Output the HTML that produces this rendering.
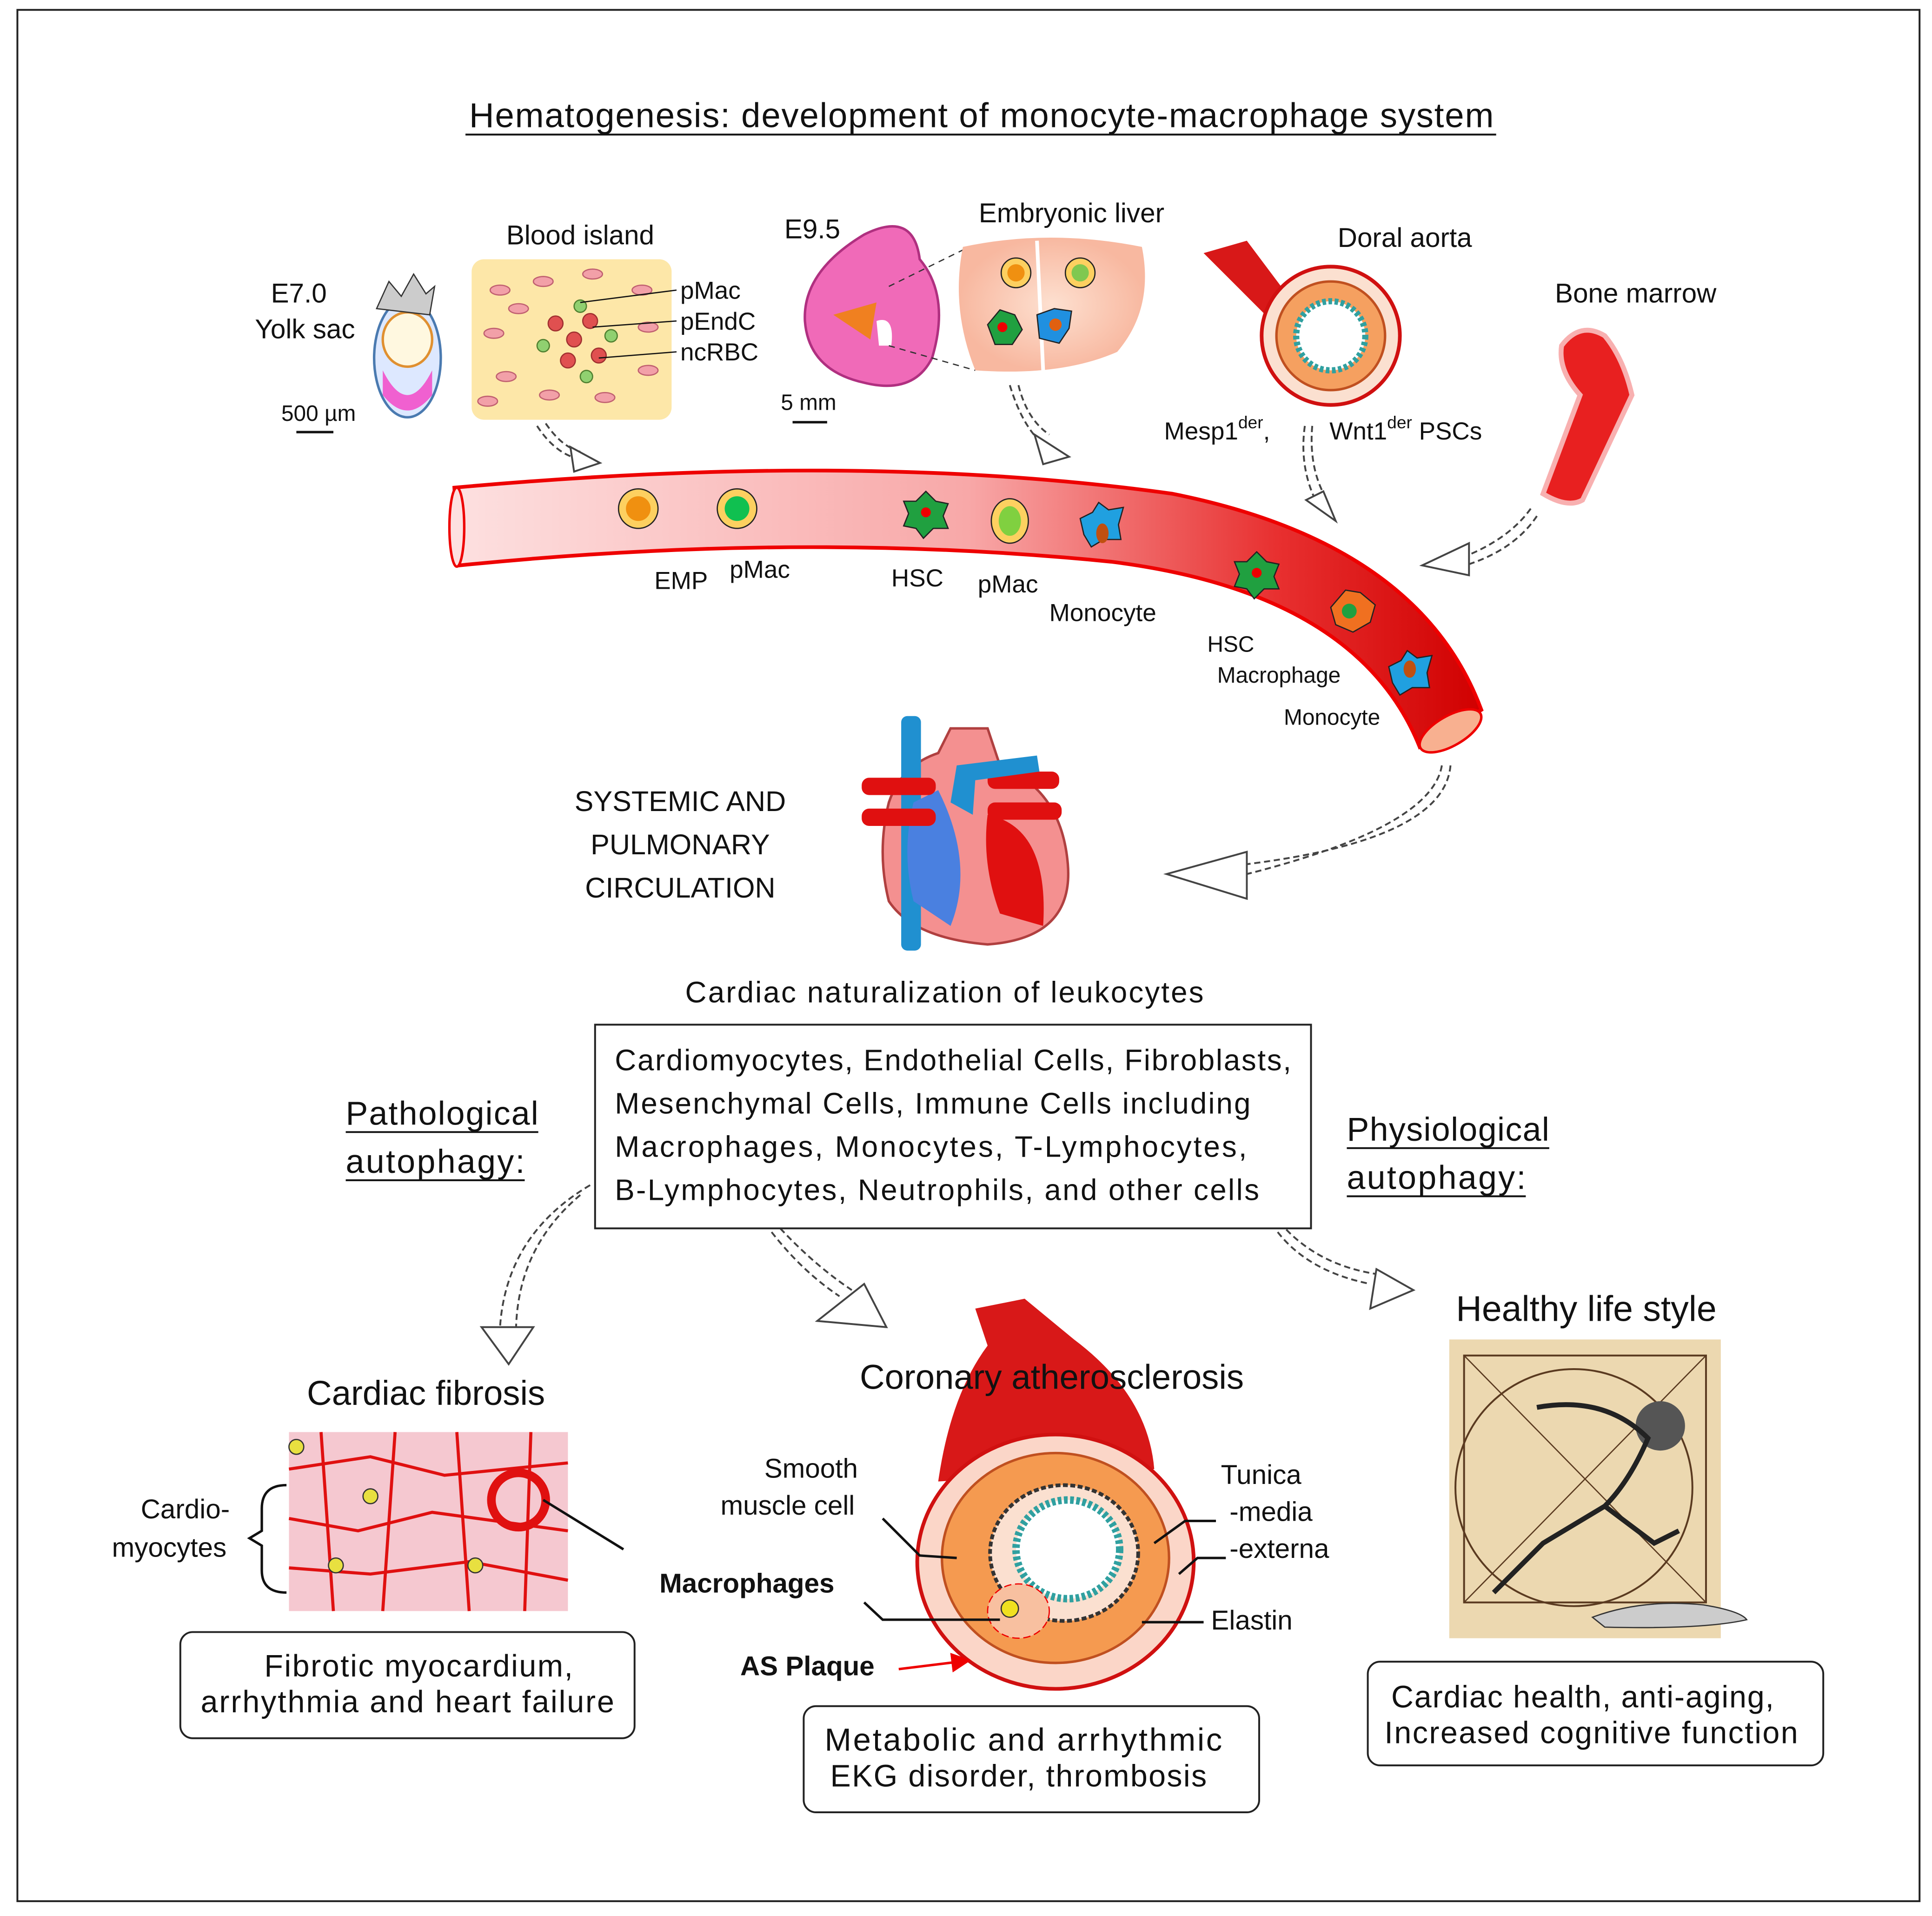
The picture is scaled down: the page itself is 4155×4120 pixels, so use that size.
<!DOCTYPE html>
<html><head><meta charset="utf-8">
<style>
html,body{margin:0;padding:0;background:#fff;}
svg{display:block;}
text{font-family:"Liberation Sans",sans-serif;fill:#111;}
</style></head>
<body>
<svg width="4155" height="4120" viewBox="0 0 1565 1552" xmlns="http://www.w3.org/2000/svg">
<defs>
<linearGradient id="ves" x1="0" y1="0" x2="1" y2="0">
<stop offset="0" stop-color="#fde0e0"/><stop offset="0.5" stop-color="#f8a8a8"/><stop offset="0.8" stop-color="#e83030"/><stop offset="1" stop-color="#d00000"/>
</linearGradient>
<radialGradient id="liv"><stop offset="0" stop-color="#fde0d0"/><stop offset="1" stop-color="#f8b8a0"/></radialGradient>
<marker id="ah" viewBox="0 0 10 10" refX="9" refY="5" markerWidth="8" markerHeight="8" orient="auto"><path d="M0,0 L10,5 L0,10 z" fill="#e00"/></marker>
</defs>
<rect x="0" y="0" width="1565" height="1552" fill="#fff"/>
<rect x="14" y="8" width="1541" height="1532" fill="none" stroke="#222" stroke-width="1.5"/>

<text x="795" y="103" font-size="28" text-anchor="middle" textLength="830">Hematogenesis:  development of monocyte-macrophage system</text>
<line x1="377" y1="109" x2="1212" y2="109" stroke="#111" stroke-width="1.5"/>

<!-- Yolk sac -->
<text x="242" y="245" font-size="22" text-anchor="middle">E7.0</text>
<text x="247" y="274" font-size="22" text-anchor="middle">Yolk sac</text>
<ellipse cx="330" cy="290" rx="27" ry="48" fill="#dde8ff" stroke="#4a7ab0" stroke-width="2"/>
<path d="M310,300 Q330,340 350,300 L350,320 Q330,345 310,320z" fill="#f060d0"/>
<ellipse cx="330" cy="275" rx="20" ry="22" fill="#fff8e0" stroke="#e09030" stroke-width="2"/>
<path d="M305,250 L315,228 L325,240 L335,222 L345,238 L352,232 L348,255z" fill="#ccc" stroke="#333"/>
<text x="258" y="341" font-size="18" text-anchor="middle">500 µm</text>
<line x1="240" y1="350" x2="270" y2="350" stroke="#111" stroke-width="2"/>

<!-- Blood island -->
<text x="470" y="198" font-size="22" text-anchor="middle">Blood island</text>
<rect x="382" y="210" width="162" height="130" rx="10" fill="#fde7a8"/>
<g fill="#f2a0a8" stroke="#c06070" stroke-width="1">
<ellipse cx="405" cy="235" rx="8" ry="4"/><ellipse cx="440" cy="228" rx="8" ry="4"/><ellipse cx="520" cy="235" rx="8" ry="4"/><ellipse cx="400" cy="270" rx="8" ry="4"/><ellipse cx="410" cy="305" rx="8" ry="4"/><ellipse cx="445" cy="320" rx="8" ry="4"/><ellipse cx="490" cy="322" rx="8" ry="4"/><ellipse cx="525" cy="300" rx="8" ry="4"/><ellipse cx="525" cy="265" rx="8" ry="4"/><ellipse cx="420" cy="250" rx="8" ry="4"/><ellipse cx="480" cy="222" rx="8" ry="4"/><ellipse cx="395" cy="325" rx="8" ry="4"/>
</g>
<g fill="#e05050" stroke="#a03030"><circle cx="450" cy="262" r="6"/><circle cx="465" cy="275" r="6"/><circle cx="478" cy="260" r="6"/><circle cx="460" cy="292" r="6"/><circle cx="485" cy="288" r="6"/></g>
<g fill="#90d070" stroke="#508030"><circle cx="440" cy="280" r="5"/><circle cx="495" cy="272" r="5"/><circle cx="470" cy="248" r="5"/><circle cx="475" cy="305" r="5"/></g>
<g stroke="#111" stroke-width="1"><line x1="470" y1="245" x2="548" y2="235"/><line x1="480" y1="265" x2="548" y2="260"/><line x1="485" y1="290" x2="548" y2="285"/></g>
<text x="551" y="242" font-size="20">pMac</text>
<text x="551" y="267" font-size="20">pEndC</text>
<text x="551" y="292" font-size="20">ncRBC</text>

<!-- E9.5 embryo -->
<text x="658" y="193" font-size="22" text-anchor="middle">E9.5</text>
<path d="M700,190 Q740,170 745,210 Q770,240 755,290 Q740,320 700,310 Q655,300 652,260 Q650,220 700,190z" fill="#f06ab8" stroke="#b03080" stroke-width="2"/>
<path d="M675,255 L710,245 L705,275 z" fill="#f08020"/>
<path d="M710,260 Q725,255 722,280 L712,280z" fill="#fff"/>
<text x="655" y="332" font-size="18" text-anchor="middle">5 mm</text>
<line x1="642" y1="342" x2="670" y2="342" stroke="#111" stroke-width="2"/>
<line x1="720" y1="232" x2="785" y2="200" stroke="#333" stroke-dasharray="5,4"/>
<line x1="720" y1="280" x2="790" y2="300" stroke="#333" stroke-dasharray="5,4"/>

<!-- liver -->
<text x="868" y="180" font-size="22" text-anchor="middle">Embryonic liver</text>
<path d="M780,200 Q850,185 925,200 Q935,250 905,285 Q860,305 790,300 Q770,250 780,200z" fill="url(#liv)"/>
<line x1="840" y1="195" x2="845" y2="300" stroke="#fff" stroke-width="3"/>
<circle cx="823" cy="221" r="12" fill="#fdd060" stroke="#222"/><circle cx="823" cy="221" r="7" fill="#f09010"/>
<circle cx="875" cy="221" r="12" fill="#fdd060" stroke="#222"/><circle cx="875" cy="221" r="7" fill="#80c850"/>
<path d="M800,263 l10,-12 l12,4 l6,12 l-8,12 l-14,0z" fill="#20a040" stroke="#222"/><circle cx="812" cy="265" r="4" fill="#e00"/>
<path d="M840,255 l14,-5 l14,2 l-2,14 l-8,12 l-16,-4z" fill="#2090e0" stroke="#222"/><circle cx="855" cy="263" r="5" fill="#e06010"/>

<!-- Dorsal aorta -->
<text x="1138" y="200" font-size="22" text-anchor="middle">Doral aorta</text>
<path d="M975,205 L1010,195 L1040,235 L1060,250 L1030,260 L990,220z" fill="#d81818"/>
<circle cx="1078" cy="272" r="56" fill="#fbe0d0" stroke="#d01010" stroke-width="3"/>
<circle cx="1078" cy="272" r="44" fill="#f5a060" stroke="#c05020" stroke-width="2"/>
<circle cx="1078" cy="272" r="28" fill="#fff" stroke="#30a0a0" stroke-width="5" stroke-dasharray="3,2"/>
<circle cx="1078" cy="272" r="22" fill="#fff"/>
<text x="943" y="356" font-size="20">Mesp1<tspan font-size="14" dy="-9">der</tspan><tspan dy="9">,</tspan></text>
<text x="1077" y="356" font-size="20">Wnt1<tspan font-size="14" dy="-9">der</tspan><tspan dy="9"> PSCs</tspan></text>

<!-- Bone marrow -->
<text x="1325" y="245" font-size="22" text-anchor="middle">Bone marrow</text>
<path d="M1265,280 Q1280,260 1300,272 Q1315,290 1322,320 L1282,405 Q1270,412 1250,400 L1280,320 Q1262,300 1265,280z" fill="#e82020" stroke="#f8b0b0" stroke-width="4"/>

<!-- dashed arrows -->
<g fill="none" stroke="#444" stroke-width="1.5" stroke-dasharray="5,3">
<path d="M435,345 Q450,368 470,372"/><path d="M442,343 Q455,362 470,366"/>
<path d="M818,312 Q828,345 845,360"/><path d="M825,312 Q832,340 850,352"/>
<path d="M1057,345 Q1052,380 1068,410"/><path d="M1063,345 Q1060,380 1075,405"/>
<path d="M1240,412 Q1220,440 1175,455"/><path d="M1245,418 Q1225,448 1180,460"/>
<path d="M1175,620 Q1170,680 1010,700"/><path d="M1168,620 Q1160,670 1010,708"/>
<path d="M478,960 Q410,1000 405,1075"/><path d="M470,968 Q420,1010 418,1075"/>
<path d="M625,998 Q650,1030 680,1050"/><path d="M632,995 Q660,1025 690,1045"/>
<path d="M1035,998 Q1060,1030 1110,1040"/><path d="M1042,996 Q1070,1025 1115,1032"/>
</g>
<g fill="#fff" stroke="#444" stroke-width="1.5">
<path d="M462,362 L486,375 L465,382z"/>
<path d="M838,352 L866,370 L845,376z"/>
<path d="M1058,405 L1082,422 L1072,398z"/>
<path d="M1190,440 L1152,458 L1190,466z"/>
<path d="M1010,690 L945,708 L1010,728z"/>
<path d="M390,1075 L412,1105 L432,1075z"/>
<path d="M662,1070 L718,1075 L700,1040z"/>
<path d="M1110,1060 L1145,1045 L1115,1028z"/>
</g>

<!-- main vessel -->
<path d="M368,395 Q700,365 950,400 Q1150,440 1200,575 L1150,605 Q1100,480 900,455 Q650,430 372,458 z" fill="url(#ves)" stroke="#e00" stroke-width="3"/>
<ellipse cx="370" cy="427" rx="6" ry="32" fill="#fde0e0" stroke="#e00" stroke-width="2"/>
<ellipse cx="1175" cy="592" rx="28" ry="12" transform="rotate(-30 1175 592)" fill="#f8b090" stroke="#e00" stroke-width="2"/>
<circle cx="517" cy="412" r="16" fill="#fdd060" stroke="#222"/><circle cx="517" cy="412" r="10" fill="#f09010"/>
<circle cx="597" cy="412" r="16" fill="#fdd060" stroke="#222"/><circle cx="597" cy="412" r="10" fill="#10c050"/>
<path d="M750,398 l8,8 l10,2 l-4,10 l4,10 l-12,0 l-8,8 l-6,-8 l-10,-2 l4,-10 l-4,-10 l10,0z" fill="#20a040" stroke="#222"/><circle cx="750" cy="415" r="4" fill="#e00"/>
<ellipse cx="818" cy="422" rx="15" ry="18" fill="#fdd060" stroke="#222"/><ellipse cx="818" cy="422" rx="9" ry="12" fill="#80d040"/>
<path d="M875,420 l10,-5 l5,-8 l8,6 l12,-2 l-4,14 l2,12 l-14,0 l-10,6 l-6,-10z" fill="#20a0e0" stroke="#222"/><ellipse cx="893" cy="432" rx="5" ry="8" fill="#c05010"/>
<path d="M1018,447 l8,8 l10,2 l-4,10 l4,10 l-12,0 l-8,8 l-6,-8 l-10,-2 l4,-10 l-4,-10 l10,0z" fill="#20a040" stroke="#222"/><circle cx="1018" cy="464" r="4" fill="#e00"/>
<path d="M1090,478 l12,2 l12,10 l-4,14 l-14,8 l-14,-6 l-4,-14z" fill="#f07020" stroke="#222"/><circle cx="1093" cy="495" r="6" fill="#20a040"/>
<path d="M1125,540 l10,-5 l5,-8 l8,6 l12,-2 l-4,14 l2,12 l-14,0 l-10,6 l-6,-10z" fill="#20a0e0" stroke="#222"/><ellipse cx="1142" cy="542" rx="5" ry="7" fill="#c05010"/>
<g font-size="20">
<text x="530" y="477">EMP</text><text x="591" y="468">pMac</text>
<text x="722" y="475">HSC</text><text x="792" y="480">pMac</text>
<text x="850" y="503">Monocyte</text>
<text x="978" y="528" font-size="18">HSC</text>
<text x="986" y="553" font-size="18">Macrophage</text>
<text x="1040" y="587" font-size="18">Monocyte</text>
</g>

<!-- heart -->
<text x="551" y="657" font-size="23" text-anchor="middle">SYSTEMIC AND</text>
<text x="551" y="692" font-size="23" text-anchor="middle">PULMONARY</text>
<text x="551" y="727" font-size="23" text-anchor="middle">CIRCULATION</text>
<path d="M720,650 Q730,620 760,610 L770,590 L800,590 L810,620 Q860,640 865,700 Q870,760 800,765 Q740,760 720,730 Q710,690 720,650z" fill="#f49090" stroke="#b04040" stroke-width="2"/>
<rect x="730" y="580" width="16" height="190" rx="5" fill="#2090d0"/>
<path d="M760,640 Q790,700 770,750 L740,730 Q730,690 740,650z" fill="#4a80e0"/>
<path d="M800,660 Q850,670 845,750 L810,740 Q795,700 800,660z" fill="#e01010"/>
<rect x="698" y="630" width="60" height="14" rx="6" fill="#e01010"/><rect x="698" y="655" width="60" height="14" rx="6" fill="#e01010"/>
<rect x="800" y="625" width="58" height="14" rx="6" fill="#e01010"/><rect x="800" y="650" width="60" height="14" rx="6" fill="#e01010"/>
<path d="M770,650 L775,620 L840,612 L842,625 L790,632 L788,660z" fill="#2090d0"/>

<text x="765" y="812" font-size="24" text-anchor="middle" textLength="420">Cardiac naturalization of leukocytes</text>
<rect x="482" y="830" width="580" height="165" fill="#fff" stroke="#222" stroke-width="1.5"/>
<g font-size="24">
<text x="498" y="867" textLength="548">Cardiomyocytes, Endothelial Cells, Fibroblasts,</text>
<text x="498" y="902" textLength="515">Mesenchymal Cells, Immune Cells including</text>
<text x="498" y="937" textLength="512">Macrophages,  Monocytes, T-Lymphocytes,</text>
<text x="498" y="972" textLength="522">B-Lymphocytes, Neutrophils, and other cells</text>
</g>
<text x="280" y="911" font-size="27" textLength="156">Pathological</text><line x1="280" y1="917" x2="436" y2="917" stroke="#111" stroke-width="1.5"/>
<text x="280" y="950" font-size="27" textLength="145">autophagy:</text><line x1="280" y1="956" x2="425" y2="956" stroke="#111" stroke-width="1.5"/>
<text x="1091" y="924" font-size="27" textLength="164">Physiological</text><line x1="1091" y1="930" x2="1255" y2="930" stroke="#111" stroke-width="1.5"/>
<text x="1091" y="963" font-size="27" textLength="145">autophagy:</text><line x1="1091" y1="969" x2="1236" y2="969" stroke="#111" stroke-width="1.5"/>

<!-- Cardiac fibrosis -->
<text x="345" y="1138" font-size="28" text-anchor="middle">Cardiac fibrosis</text>
<rect x="234" y="1160" width="226" height="145" fill="#f5c8d0"/>
<g fill="none" stroke="#e01010" stroke-width="2.5">
<path d="M234,1190 L300,1180 L360,1195 L460,1185"/><path d="M234,1230 L290,1240 L350,1225 L460,1240"/><path d="M234,1270 L300,1275 L380,1265 L460,1280"/>
<path d="M260,1160 L270,1305"/><path d="M320,1160 L310,1305"/><path d="M370,1160 L380,1305"/><path d="M430,1160 L425,1305"/>
</g>
<circle cx="420" cy="1215" r="22" fill="none" stroke="#e01010" stroke-width="7"/>
<g fill="#e8e040" stroke="#333"><circle cx="300" cy="1212" r="6"/><circle cx="272" cy="1268" r="6"/><circle cx="385" cy="1268" r="6"/><circle cx="240" cy="1172" r="6"/></g>
<line x1="440" y1="1215" x2="505" y2="1255" stroke="#111" stroke-width="2"/>
<text x="150" y="1230" font-size="22" text-anchor="middle">Cardio-</text>
<text x="137" y="1261" font-size="22" text-anchor="middle">myocytes</text>
<path d="M232,1203 Q212,1203 212,1222 L212,1240 L202,1246 L212,1252 L212,1272 Q212,1290 232,1290" fill="none" stroke="#111" stroke-width="2"/>
<rect x="146" y="1322" width="368" height="86" rx="10" fill="#fff" stroke="#222" stroke-width="1.5"/>
<text x="339" y="1358" font-size="25" text-anchor="middle" textLength="250">Fibrotic myocardium,</text>
<text x="330" y="1387" font-size="25" text-anchor="middle" textLength="335">arrhythmia and heart failure</text>

<!-- Coronary atherosclerosis -->
<path d="M790,1060 L830,1052 L870,1085 Q930,1130 935,1190 L760,1200 Q770,1130 800,1090z" fill="#d81818"/>
<text x="852" y="1125" font-size="28" text-anchor="middle">Coronary atherosclerosis</text>
<ellipse cx="855" cy="1265" rx="112" ry="103" fill="#fbd6c8" stroke="#d01010" stroke-width="3"/>
<ellipse cx="855" cy="1262" rx="92" ry="85" fill="#f59a50" stroke="#c05020" stroke-width="2"/>
<ellipse cx="862" cy="1258" rx="60" ry="55" fill="#fbe0d0" stroke="#333" stroke-width="3" stroke-dasharray="4,2"/>
<ellipse cx="865" cy="1255" rx="42" ry="40" fill="#fff" stroke="#30a0a0" stroke-width="6" stroke-dasharray="3,2"/>
<ellipse cx="825" cy="1305" rx="25" ry="22" fill="#f8c0a0" stroke="#e00" stroke-dasharray="6,3"/>
<circle cx="818" cy="1303" r="7" fill="#f0e020" stroke="#333"/>
<g font-size="22">
<text x="657" y="1197" text-anchor="middle">Smooth</text>
<text x="638" y="1227" text-anchor="middle">muscle cell</text>
<text x="605" y="1290" font-weight="bold" text-anchor="middle">Macrophages</text>
<text x="654" y="1357" font-weight="bold" text-anchor="middle">AS Plaque</text>
<text x="989" y="1202">Tunica</text>
<text x="996" y="1232">-media</text>
<text x="996" y="1262">-externa</text>
<text x="981" y="1320">Elastin</text>
</g>
<g stroke="#111" stroke-width="2" fill="none">
<polyline points="715,1230 745,1260 775,1262"/>
<polyline points="700,1298 715,1312 810,1312"/>
<polyline points="985,1232 960,1232 935,1250"/>
<polyline points="993,1262 970,1262 955,1275"/>
<line x1="975" y1="1314" x2="925" y2="1314"/>
</g>
<line x1="728" y1="1352" x2="785" y2="1345" stroke="#e00" stroke-width="2" marker-end="url(#ah)"/>
<rect x="651" y="1382" width="369" height="86" rx="10" fill="#fff" stroke="#222" stroke-width="1.5"/>
<text x="829" y="1418" font-size="26" text-anchor="middle" textLength="322">Metabolic and arrhythmic</text>
<text x="825" y="1447" font-size="25" text-anchor="middle" textLength="305">EKG disorder,  thrombosis</text>

<!-- Healthy life style -->
<text x="1285" y="1070" font-size="29" text-anchor="middle">Healthy life style</text>
<rect x="1174" y="1085" width="220" height="242" fill="#ecd8b0"/>
<rect x="1186" y="1098" width="196" height="200" fill="none" stroke="#5a3a20" stroke-width="1.5"/>
<circle cx="1275" cy="1205" r="96" fill="none" stroke="#5a3a20" stroke-width="1.5"/>
<line x1="1186" y1="1098" x2="1382" y2="1298" stroke="#5a3a20"/><line x1="1382" y1="1098" x2="1186" y2="1298" stroke="#5a3a20"/>
<circle cx="1345" cy="1155" r="20" fill="#555"/>
<path d="M1245,1140 Q1300,1130 1335,1165 Q1320,1200 1300,1220 L1250,1250 L1210,1290 M1300,1220 L1340,1250 L1360,1240" fill="none" stroke="#222" stroke-width="4"/>
<path d="M1290,1310 Q1330,1295 1380,1300 Q1410,1305 1415,1312 Q1380,1320 1300,1318z" fill="#ccc" stroke="#333"/>
<rect x="1108" y="1346" width="369" height="84" rx="10" fill="#fff" stroke="#222" stroke-width="1.5"/>
<text x="1282" y="1383" font-size="25" text-anchor="middle" textLength="310">Cardiac health, anti-aging,</text>
<text x="1289" y="1412" font-size="25" text-anchor="middle" textLength="335">Increased cognitive function</text>
</svg>
</body></html>
